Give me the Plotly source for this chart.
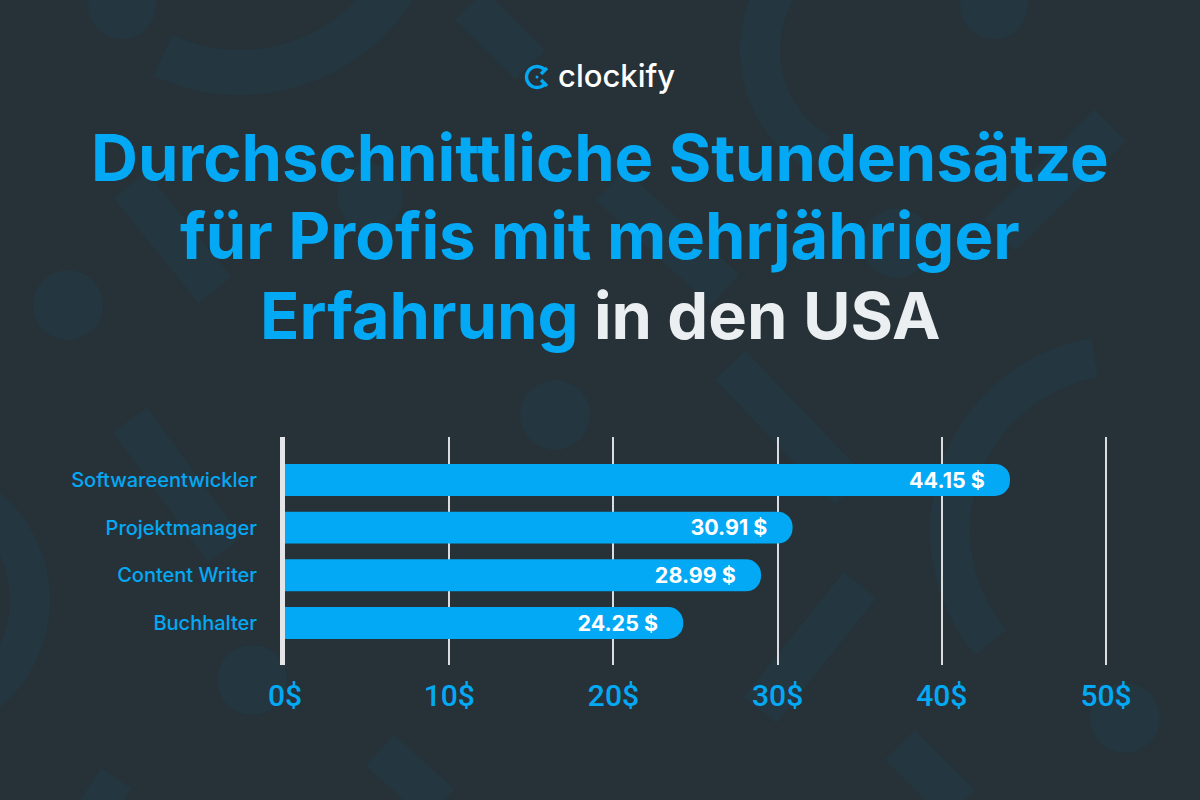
import numpy as np
import plotly.graph_objects as go

# ---- data ----
categories = ["Softwareentwickler", "Projektmanager", "Content Writer", "Buchhalter"]
rates = [44.15, 30.91, 28.99, 24.25]
tick_values = [0, 10, 20, 30, 40, 50]
tick_labels = ["0$", "10$", "20$", "30$", "40$", "50$"]
title_lines = ["Durchschnittliche Stundensätze", "für Profis mit mehrjähriger",
               "Erfahrung <span style='color:#eceff1'>in den USA</span>"]

BG = "#263238"
DECO = "#24363f"
BLUE = "#03a9f4"
W, H = 1200, 800


def px(x, y):
    return x / W, 1 - y / H


def band(x1, y1, x2, y2, w):
    dx, dy = x2 - x1, y2 - y1
    L = (dx * dx + dy * dy) ** 0.5
    nx, ny = -dy / L * w / 2, dx / L * w / 2
    pts = [(x1 + nx, y1 + ny), (x2 + nx, y2 + ny), (x2 - nx, y2 - ny), (x1 - nx, y1 - ny)]
    s = ""
    for i, (a, b) in enumerate(pts):
        u, v = px(a, b)
        s += ("M" if i == 0 else "L") + f"{u:.5f},{v:.5f} "
    return s + "Z"


def ring(cx, cy, r1, r2, a0, a1, n=60):
    t = np.linspace(np.radians(a0), np.radians(a1), n)
    outer = [(cx + r2 * np.cos(a), cy + r2 * np.sin(a)) for a in t]
    inner = [(cx + r1 * np.cos(a), cy + r1 * np.sin(a)) for a in t[::-1]]
    s = ""
    for i, (a, b) in enumerate(outer + inner):
        u, v = px(a, b)
        s += ("M" if i == 0 else "L") + f"{u:.5f},{v:.5f} "
    return s + "Z"


def circle(cx, cy, r):
    x0, y0 = px(cx - r, cy - r)
    x1, y1 = px(cx + r, cy + r)
    return dict(type="circle", xref="paper", yref="paper", x0=x0, x1=x1, y0=y1, y1=y0,
                fillcolor=DECO, line_width=0, layer="below")


shapes = []
for c in [(122, 5, 34), (68, 305, 35), (370, 197, 33), (252, 680, 35), (555, 415, 35),
          (994, 5, 34), (897, 243, 35), (1125, 718, 35)]:
    shapes.append(circle(*c))
for b in [(130, 185, 215, 290, 42), (130, 420, 225, 550, 42), (470, 5, 530, 65, 42),
          (610, 185, 725, 290, 42), (1110, 125, 1000, 235, 45), (730, 365, 850, 490, 42),
          (860, 585, 760, 710, 42), (900, 745, 960, 805, 42), (380, 750, 440, 805, 42),
          (90, 785, 120, 805, 40)]:
    shapes.append(dict(type="path", path=band(*b), xref="paper", yref="paper",
                       fillcolor=DECO, line_width=0, layer="below"))
for r in [(240, -110, 160, 205, 20, 115), (880, 50, 100, 140, 120, 235),
          (1125, 530, 155, 195, 140, 260), (-90, 600, 100, 140, -60, 60)]:
    shapes.append(dict(type="path", path=ring(*r), xref="paper", yref="paper",
                       fillcolor=DECO, line_width=0, layer="below"))

# logo icon
t = np.linspace(np.radians(40), np.radians(320), 40)
s = ""
for i, a in enumerate(t):
    u, v = px(537 + 10.5 * np.cos(a), 77 - 10.5 * np.sin(a))
    s += ("M" if i == 0 else "L") + f"{u:.5f},{v:.5f} "
shapes.append(dict(type="path", path=s, xref="paper", yref="paper", line=dict(color=BLUE, width=3.4)))
for (a, b, c, d) in [(541, 74, 547, 68), (541, 80, 547, 86)]:
    u0, v0 = px(a, b)
    u1, v1 = px(c, d)
    shapes.append(dict(type="line", xref="paper", yref="paper", x0=u0, y0=v0, x1=u1, y1=v1,
                       line=dict(color=BLUE, width=3.4)))
cx0, cy0 = px(535.5, 75.5)
cx1, cy1 = px(538.5, 78.5)
shapes.append(dict(type="circle", xref="paper", yref="paper", x0=cx0, x1=cx1, y0=cy1, y1=cy0,
                   fillcolor=BLUE, line_width=0))

fig = go.Figure()
fig.add_trace(go.Bar(
    x=rates, y=categories, orientation="h",
    marker=dict(color=BLUE, cornerradius=16, line_width=0),
    width=0.67,
    texttemplate="%{x:.2f} $\u00a0\u00a0",
    textposition="inside", insidetextanchor="end",
    textfont=dict(family="Inter", size=24, color="white", weight=700),
    hoverinfo="skip", showlegend=False,
))

xl, _ = px(285, 0)
xr, _ = px(1112.6, 0)
_, yb = px(0, 665)
_, yt = px(0, 437)

annotations = []
for line, yc in zip(title_lines, [157, 236, 315]):
    annotations.append(dict(xref="paper", yref="paper", x=0.5, y=px(0, yc)[1],
                            xanchor="center", yanchor="middle", text=line, showarrow=False,
                            font=dict(family="Inter", size=65, color=BLUE, weight=700)))
annotations.append(dict(xref="paper", yref="paper", x=px(556, 0)[0], y=px(0, 76)[1], xanchor="left",
                        yanchor="middle", text="clockify", showarrow=False,
                        font=dict(family="Inter", size=31, color="white", weight=500)))

fig.update_layout(
    width=W, height=H,
    paper_bgcolor=BG, plot_bgcolor="rgba(0,0,0,0)",
    margin=dict(l=0, r=0, t=0, b=0, pad=0),
    shapes=shapes,
    xaxis=dict(domain=[xl, xr], range=[0, 50.4], tickvals=tick_values, ticktext=tick_labels,
               showgrid=True, gridcolor="#d9dde0", gridwidth=2, zeroline=False,
               showline=False, ticks="", ticklabelstandoff=10, automargin=False,
               tickfont=dict(family="Roboto", size=30, color=BLUE, weight=500)),
    yaxis=dict(domain=[yb, yt], range=[3.88, -0.9], showgrid=False, zeroline=False,
               showline=True, linecolor="#e3e5e8", linewidth=5, layer="above traces",
               ticks="", ticklabelstandoff=19, automargin=False,
               tickfont=dict(family="Inter", size=20, color=BLUE, weight=500)),
    annotations=annotations,
)

fig.write_html("out.html", config={"displayModeBar": False},
               post_script="document.body.style.margin='0px';document.body.style.overflow='hidden';")
